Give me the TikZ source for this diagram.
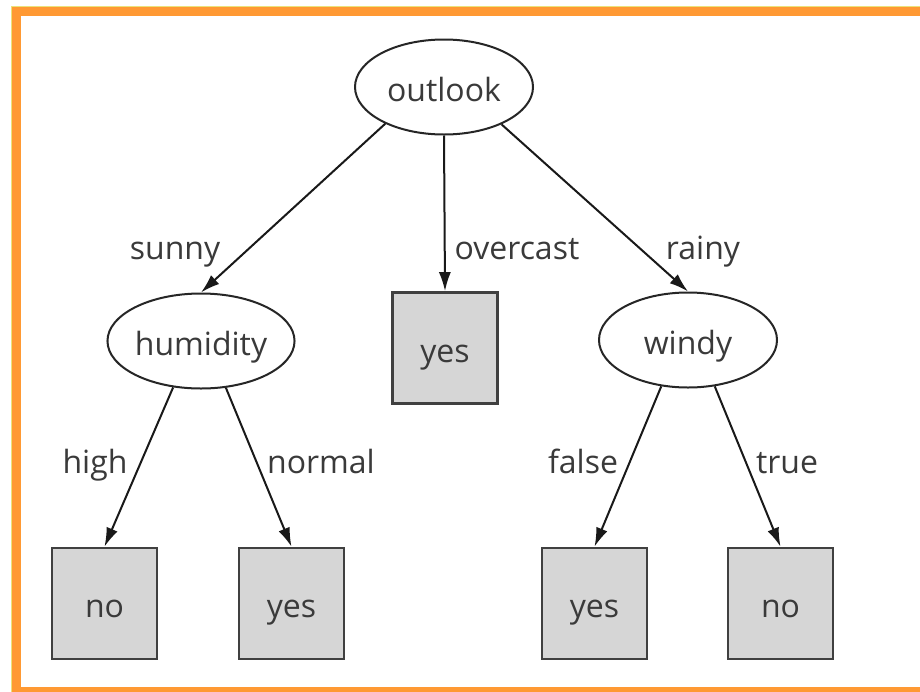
\documentclass[tikz,border=0pt]{standalone}
\usepackage{fontspec}
\setmainfont{Open Sans}
\usepackage{xcolor}
\usetikzlibrary{shapes.geometric,arrows.meta}
\definecolor{frameorange}{RGB}{255,153,51}
\definecolor{frameyellow}{RGB}{236,226,122}
\definecolor{leafgray}{RGB}{214,214,214}
\definecolor{inkgray}{RGB}{58,58,58}

\begin{document}
\begin{tikzpicture}[x=1pt,y=-1pt,
  every node/.style={font=\fontsize{32}{38}\selectfont,text=inkgray,text height=28pt,text depth=0pt},
  attr/.style={ellipse,draw=black!85,line width=2pt,fill=white,inner sep=0pt,minimum width=178,minimum height=95},
  leaf/.style={rectangle,draw=black!75,line width=2.6pt,fill=leafgray,inner sep=0pt,minimum width=105,minimum height=111},
  branch/.style={anchor=base,inner sep=0pt},
  arc/.style={draw=black!90,line width=2pt,-{Latex[length=19pt,width=12pt]}}]
\clip (0,0) rectangle (920,691);
% frame
\fill[white] (0,0) rectangle (920,691);
\draw[frameorange,line width=9pt] (16.5,11.5) rectangle (940,691.5);
\draw[frameyellow,line width=1.5pt] (11.5,700) -- (11.5,6.5) -- (940,6.5);
% nodes
\node[attr] (outlook) at (444,87) {outlook};
\node[attr] (humidity) at (201,341) {humidity};
\node[attr] (windy) at (688,340) {windy};
\node[leaf] (yesover) at (445,348) {yes};
\node[leaf] (nohigh) at (104.5,603.5) {no};
\node[leaf] (yesnormal) at (291.5,603.5) {yes};
\node[leaf] (yesfalse) at (594.5,603.5) {yes};
\node[leaf] (notrue) at (780.5,603.5) {no};
% arcs
\draw[arc] (outlook.212) -- (humidity.north);
\draw[arc] (outlook.south) -- (yesover.north);
\draw[arc] (outlook.327) -- (windy.north);
\draw[arc] (humidity.239) -- (nohigh.north);
\draw[arc] (humidity.298) -- (yesnormal.north);
\draw[arc] (windy.240) -- (yesfalse.north);
\draw[arc] (windy.300) -- (notrue.north);
% branch labels
\node[branch] (lsunny) at (175,259) {sunny};
\node[branch] (lovercast) at (517,259) {overcast};
\node[branch] (lrainy) at (703,259) {rainy};
\node[branch] (lhigh) at (95,473) {high};
\node[branch] (lnormal) at (321,473) {normal};
\node[branch] (lfalse) at (583,473) {false};
\node[branch] (ltrue) at (787,473) {true};
\end{tikzpicture}
\end{document}
